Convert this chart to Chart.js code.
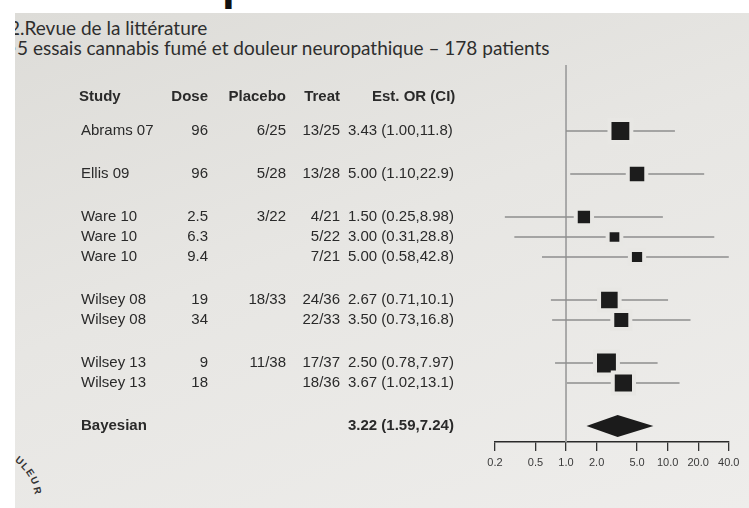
<!DOCTYPE html>
<html>
<head>
<meta charset="utf-8">
<script src="https://cdn.jsdelivr.net/npm/chart.js@4.4.1/dist/chart.umd.min.js"></script>
<style>
    html, body { margin: 0; padding: 0; background: #fff; width: 749px; height: 508px; overflow: hidden; }
    #page {
        position: absolute; left: 15px; top: 13px; width: 734px; height: 495px; overflow: hidden;
        background: linear-gradient(160deg, #dddcd8 0%, #e7e6e3 45%, #eeedeb 100%);
    }
    .title { position: absolute; font-family: Lato, "Open Sans", sans-serif; font-size: 19px; color: #2e2e2e; white-space: nowrap; }
    #heading-cut { position: absolute; left: 222px; top: 0; width: 30px; height: 11px; overflow: hidden; }
    #heading-cut span { position: absolute; left: 0; top: -44px; font: bold 46px "Liberation Sans", Arial, sans-serif; color: #111; }
    .stamp { position: absolute; font: bold 10px "Liberation Sans", Arial, sans-serif; color: #333; }
    #chart { position: absolute; left: 0; top: 0; }
</style>
</head>
<body>
<div id="heading-cut"><span>p</span></div>
<div id="page">
    <div class="title" style="left: -6px; top: 3px;">2.Revue de la littérature</div>
    <div class="title" style="left: -9px; top: 23px;">•5 essais cannabis fumé et douleur neuropathique – 178 patients</div>
</div>
<div class="stamp" style="left: 16px; top: 455px; transform: rotate(40deg);">U</div>
<div class="stamp" style="left: 22px; top: 461px; transform: rotate(48deg);">L</div>
<div class="stamp" style="left: 27px; top: 467px; transform: rotate(56deg);">E</div>
<div class="stamp" style="left: 31px; top: 475px; transform: rotate(66deg);">U</div>
<div class="stamp" style="left: 34px; top: 485px; transform: rotate(76deg);">R</div>
<canvas id="chart" width="749" height="508"></canvas>

<script>
// table / forest plot data
const studies = ['Abrams 07', 'Ellis 09', 'Ware 10', 'Ware 10', 'Ware 10', 'Wilsey 08', 'Wilsey 08', 'Wilsey 13', 'Wilsey 13'];
const doses = ['96', '96', '2.5', '6.3', '9.4', '19', '34', '9', '18'];
const placebo = ['6/25', '5/28', '3/22', '', '', '18/33', '', '11/38', ''];
const treat = ['13/25', '13/28', '4/21', '5/22', '7/21', '24/36', '22/33', '17/37', '18/36'];
const estOR = [3.43, 5.00, 1.50, 3.00, 5.00, 2.67, 3.50, 2.50, 3.67];
const ciLow = [1.00, 1.10, 0.25, 0.31, 0.58, 0.71, 0.73, 0.78, 1.02];
const ciHigh = [11.8, 22.9, 8.98, 28.8, 42.8, 10.1, 16.8, 7.97, 13.1];

const pooledLabel = 'Bayesian';
const pooledOR = 3.22;
const pooledLow = 1.59;
const pooledHigh = 7.24;

const tickValues = [0.2, 0.5, 1, 2, 5, 10, 20, 40];
const tickLabels = ['0.2', '0.5', '1.0', '2.0', '5.0', '10.0', '20.0', '40.0'];

// row layout: one unit per row, extra gap between different studies
const GROUP_GAP = 2.15;
const rowPos = [];
studies.forEach((s, i) => {
    if (i === 0) rowPos.push(0);
    else rowPos.push(rowPos[i - 1] + (s !== studies[i - 1] ? GROUP_GAP : 1));
});
const pooledPos = rowPos[rowPos.length - 1] + GROUP_GAP;
const HEADER_POS = -1.7;
const Y_MIN = -3.3;
const Y_MAX = 15.55;

const BG = '#e8e7e4';
const INK = '#2a2a2a';

function fmt(v) {
    return v < 10 ? v.toFixed(2) : v.toFixed(1);
}

// square side shrinks with CI width (inverse of log-width)
function squareRadius(i) {
    const side = 44 / Math.log(ciHigh[i] / ciLow[i]);
    return (side + 4) / Math.SQRT2;
}

const tablePlugin = {
    id: 'table',
    afterDraw(chart) {
        const ctx = chart.ctx;
        const y = chart.scales.y;
        const x = chart.scales.x;
        ctx.save();
        ctx.fillStyle = INK;
        ctx.textBaseline = 'middle';

        // header
        const hy = y.getPixelForValue(HEADER_POS);
        ctx.font = 'bold 15px "Liberation Sans", Arial, sans-serif';
        ctx.textAlign = 'left';
        ctx.fillText('Study', 79, hy);
        ctx.fillText('Est. OR (CI)', 372, hy);
        ctx.textAlign = 'right';
        ctx.fillText('Dose', 208, hy);
        ctx.fillText('Placebo', 286, hy);
        ctx.fillText('Treat', 340, hy);

        // rows
        ctx.font = '15px "Liberation Sans", Arial, sans-serif';
        studies.forEach((s, i) => {
            const py = y.getPixelForValue(rowPos[i]);
            ctx.textAlign = 'left';
            ctx.fillText(s, 81, py);
            ctx.fillText(`${fmt(estOR[i])} (${fmt(ciLow[i])},${fmt(ciHigh[i])})`, 348, py);
            ctx.textAlign = 'right';
            ctx.fillText(doses[i], 208, py);
            ctx.fillText(placebo[i], 286, py);
            ctx.fillText(treat[i], 340, py);
        });

        // pooled row
        const by = y.getPixelForValue(pooledPos);
        ctx.font = 'bold 15px "Liberation Sans", Arial, sans-serif';
        ctx.textAlign = 'left';
        ctx.fillText(pooledLabel, 81, by);
        ctx.fillText(`${fmt(pooledOR)} (${fmt(pooledLow)},${fmt(pooledHigh)})`, 348, by);

        // pooled diamond
        const x0 = x.getPixelForValue(pooledLow);
        const xm = x.getPixelForValue(pooledOR);
        const x1 = x.getPixelForValue(pooledHigh);
        ctx.fillStyle = '#1b1b1b';
        ctx.beginPath();
        ctx.moveTo(x0, by);
        ctx.lineTo(xm, by - 11);
        ctx.lineTo(x1, by);
        ctx.lineTo(xm, by + 11);
        ctx.closePath();
        ctx.fill();
        ctx.restore();
    }
};

const ciSets = studies.map((s, i) => ({
    type: 'line',
    data: [{ x: ciLow[i], y: rowPos[i] }, { x: ciHigh[i], y: rowPos[i] }],
    borderColor: '#8e8e8e',
    borderWidth: 1.3,
    pointRadius: 0,
    order: 2
}));

new Chart(document.getElementById('chart'), {
    data: {
        datasets: [
            {
                type: 'scatter',
                data: estOR.map((v, i) => ({ x: v, y: rowPos[i] })),
                pointStyle: 'rect',
                pointRadius: estOR.map((v, i) => squareRadius(i)),
                backgroundColor: '#1c1c1c',
                borderColor: BG,
                borderWidth: 4,
                order: 0
            },
            ...ciSets,
            {
                type: 'line',
                data: [{ x: 1, y: Y_MIN }, { x: 1, y: Y_MAX }],
                borderColor: '#a0a0a0',
                borderWidth: 1,
                pointRadius: 0,
                order: 3
            }
        ]
    },
    options: {
        responsive: false,
        animation: false,
        layout: { padding: { left: 495, right: 14, top: 65, bottom: 0 } },
        plugins: {
            legend: { display: false },
            tooltip: { enabled: false }
        },
        scales: {
            x: {
                type: 'logarithmic',
                min: 0.2,
                max: 40,
                afterBuildTicks: (s) => { s.ticks = tickValues.map(v => ({ value: v })); },
                afterFit: (s) => { s.height = 66; },
                ticks: {
                    callback: (v) => tickLabels[tickValues.indexOf(v)],
                    color: '#3a3a3a',
                    font: { family: '"Liberation Sans", Arial, sans-serif', size: 11 },
                    padding: 5,
                    maxRotation: 0,
                    autoSkip: false
                },
                grid: { display: true, drawOnChartArea: false, drawTicks: true, tickLength: 9, color: '#333', lineWidth: 1.3 },
                border: { display: true, color: '#2a2a2a', width: 1.6 }
            },
            y: {
                type: 'linear',
                display: false,
                reverse: true,
                min: Y_MIN,
                max: Y_MAX
            }
        }
    },
    plugins: [tablePlugin]
});
</script>
</body>
</html>
